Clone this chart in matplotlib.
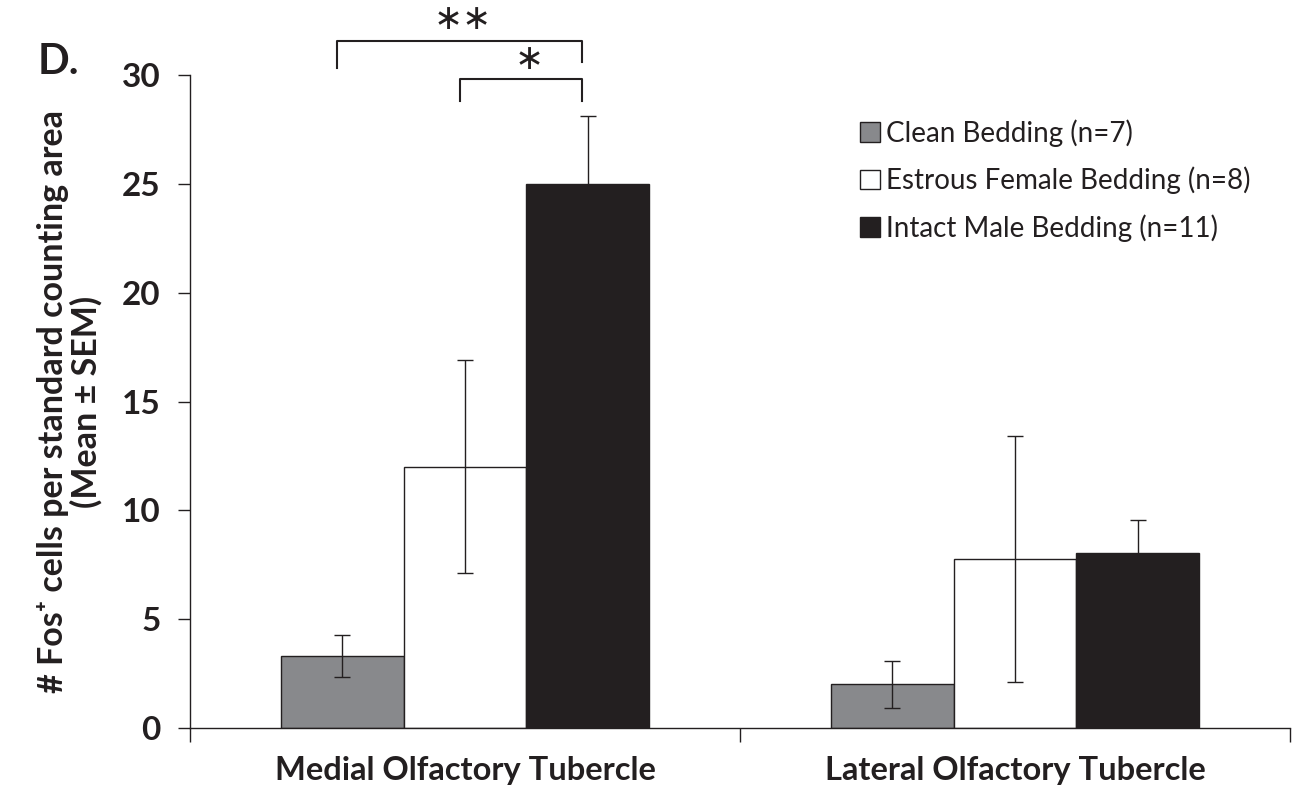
import matplotlib
matplotlib.use("Agg")
import matplotlib.pyplot as plt
import numpy as np

categories = ["Medial Olfactory Tubercle", "Lateral Olfactory Tubercle"]
series = ["Clean Bedding (n=7)", "Estrous Female Bedding (n=8)", "Intact Male Bedding (n=11)"]
means = {
    "Clean Bedding (n=7)": [3.3, 2.0],
    "Estrous Female Bedding (n=8)": [12.0, 7.75],
    "Intact Male Bedding (n=11)": [25.0, 8.05],
}
sems = {
    "Clean Bedding (n=7)": [0.95, 1.1],
    "Estrous Female Bedding (n=8)": [4.9, 5.65],
    "Intact Male Bedding (n=11)": [3.1, 1.5],
}
colors = ["#88898c", "#ffffff", "#231f20"]
yticks = [0, 5, 10, 15, 20, 25, 30]

FONT = ["Lato", "DejaVu Sans"]
plt.rcParams["font.family"] = FONT
dark = "#231f20"

fig = plt.figure(figsize=(12.99, 7.95), dpi=100)
ax = fig.add_axes([190/1299, 1-728/795, 1100/1299, (728-75)/795])

x = np.arange(len(categories))
w = 0.2236
for i, s in enumerate(series):
    pos = x + (i - 1) * w
    ax.bar(pos, means[s], width=w, color=colors[i], edgecolor=dark, linewidth=1.0, label=s, zorder=2)
    ax.errorbar(pos, means[s], yerr=sems[s], fmt="none", ecolor=dark, elinewidth=1.0,
                capsize=6, capthick=1.0, zorder=3)

ax.set_xlim(-0.5, 1.5)
ax.set_ylim(0, 30)
ax.set_yticks(yticks)
ax.set_yticklabels([str(t) for t in yticks], fontsize=24, fontweight="bold", color=dark)
ax.set_xticks(x)
ax.set_xticklabels(categories, fontsize=23.5, fontweight="bold", color=dark)
ax.tick_params(axis="x", which="major", length=0, pad=20)
ax.set_xticks([-0.5, 0.5, 1.5], minor=True)
ax.tick_params(axis="x", which="minor", length=10, direction="out", color=dark, width=1)
ax.tick_params(axis="y", length=9, direction="out", color=dark, width=1, pad=12)
for sp in ["top", "right"]:
    ax.spines[sp].set_visible(False)
for sp in ["left", "bottom"]:
    ax.spines[sp].set_color(dark)
    ax.spines[sp].set_linewidth(1)

ax.set_ylabel("# Fos\u207a cells per standard counting area\n(Mean \u00b1 SEM)",
              fontsize=24.5, fontweight="bold", color=dark, labelpad=14, linespacing=1.05)

# significance brackets
gx = x[0] + np.array([-1, 0, 1]) * w
ax.plot([gx[0] - 0.01, gx[0] - 0.01, gx[2] - 0.01, gx[2] - 0.01], [30.33, 31.57, 31.57, 30.6],
        color=dark, lw=1.5, clip_on=False)
ax.plot([gx[1] - 0.01, gx[1] - 0.01, gx[2] - 0.01, gx[2] - 0.01], [28.8, 29.81, 29.81, 28.8],
        color=dark, lw=1.5, clip_on=False)
ax.text((gx[0] + gx[2]) / 2 - 0.005, 32.55, "\u2217\u2217", ha="center", va="center", fontsize=25,
        color=dark, clip_on=False, family=["DejaVu Sans"])
ax.text((gx[1] + gx[2]) / 2 + 0.005, 30.72, "\u2217", ha="center", va="center", fontsize=25,
        color=dark, clip_on=False, family=["DejaVu Sans"])

fig.text(38/1299, 1-62/795, "D.", fontsize=30, fontweight="bold", color=dark, ha="left", va="center")

leg = ax.legend(loc="upper left", bbox_to_anchor=(849/1299, 1-108/795), bbox_transform=fig.transFigure,
                frameon=False, fontsize=20, handlelength=0.7, handleheight=0.7, handletextpad=0.25,
                labelspacing=0.72, borderaxespad=0)
for t in leg.get_texts():
    t.set_color(dark)

fig.savefig("out.png", dpi=100)
